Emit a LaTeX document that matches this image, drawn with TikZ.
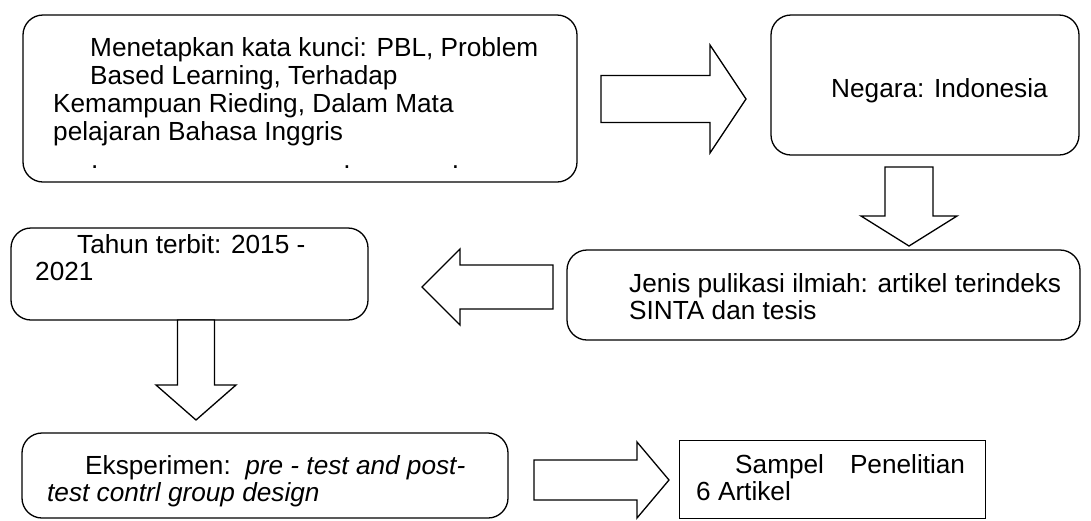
\documentclass[tikz,border=0pt]{standalone}
\usepackage{fontspec}
\setmainfont{Liberation Sans}
\usetikzlibrary{calc}

% block arrows: tail x, head-base x, tip x, mid y, half body, half head
\newcommand\hblockarrow[6]{%
  \draw[barrow] (#1,#4-#5) -- (#2,#4-#5) -- (#2,#4-#6) -- (#3,#4)
    -- (#2,#4+#6) -- (#2,#4+#5) -- (#1,#4+#5) -- cycle;}
% tail y, head-base y, tip y, mid x, half body, half head
\newcommand\vblockarrow[6]{%
  \draw[barrow] (#4-#5,#1) -- (#4-#5,#2) -- (#4-#6,#2) -- (#4,#3)
    -- (#4+#6,#2) -- (#4+#5,#2) -- (#4+#5,#1) -- cycle;}
% stacked text lines, baseline of the block = baseline of first line
\newcommand\textlines[2]{\vtop{\baselineskip=#1pt\lineskiplimit=-100pt #2}}

\begin{document}
\begin{tikzpicture}[x=1pt,y=-1pt,
  rbox/.style={draw, line width=1.3pt, rounded corners=20pt, inner sep=0pt,
    outer sep=0pt, anchor=north west},
  sbox/.style={draw, line width=1pt, inner sep=0pt, outer sep=0pt, anchor=north west},
  txt/.style={inner sep=0pt, anchor=base west, font=\fontsize{26.2}{30}\selectfont},
  barrow/.style={draw, line width=1.3pt, line join=miter, fill=white}]
\useasboundingbox (0,0) rectangle (1091,520);

% boxes
\node[rbox, minimum width=554pt, minimum height=167pt] (b1) at (23,15) {};
\node[rbox, minimum width=308pt, minimum height=140pt] (b2) at (771,15) {};
\node[rbox, minimum width=513pt, minimum height=90pt]  (b3) at (567,250) {};
\node[rbox, minimum width=357pt, minimum height=92pt]  (b4) at (11,228) {};
\node[rbox, minimum width=486pt, minimum height=85pt]  (b5) at (22,433) {};
\node[sbox, minimum width=306pt, minimum height=78pt]  (b6) at (679,440) {};

% texts
\node[txt] (t1) at (53,56) {\textlines{28}{%
  \hbox{\hspace*{37pt}Menetapkan kata kunci: PBL, Problem}
  \hbox{\hspace*{37pt}Based Learning, Terhadap}
  \hbox{Kemampuan Rieding, Dalam Mata}
  \hbox{pelajaran Bahasa Inggris}}};
\node[txt] (t1d) at (91,168) {.\hspace{245pt}.\hspace{101pt}.};
\node[txt] (t2) at (831,97) {Negara: Indonesia};
\node[txt] (t3) at (629,292) {\textlines{27}{%
  \hbox{Jenis pulikasi ilmiah: artikel terindeks}
  \hbox{SINTA dan tesis}}};
\node[txt] (t4) at (35,253) {\textlines{27}{%
  \hbox{\hspace*{42pt}Tahun terbit: 2015 -}
  \hbox{2021}}};
\node[txt] (t5) at (47,474) {\textlines{27}{%
  \hbox{\hspace*{38pt}Eksperimen:\ \ \textit{pre - test and post-}}
  \hbox{\textit{test contrl group design}}}};
\node[txt] (t6) at (696,473) {\textlines{27}{%
  \hbox{\hspace*{39pt}Sampel\hspace{26pt}Penelitian}
  \hbox{6 Artikel}}};

% block arrows between the boxes
\hblockarrow{601}{710}{746}{99}{23.5}{54}
\vblockarrow{167}{216}{246}{909}{24}{48}
\hblockarrow{553}{460}{422}{287}{22}{38}
\vblockarrow{320}{385}{420}{196}{18.5}{40}
\hblockarrow{534}{637}{669}{480}{20}{38}
\end{tikzpicture}
\end{document}
